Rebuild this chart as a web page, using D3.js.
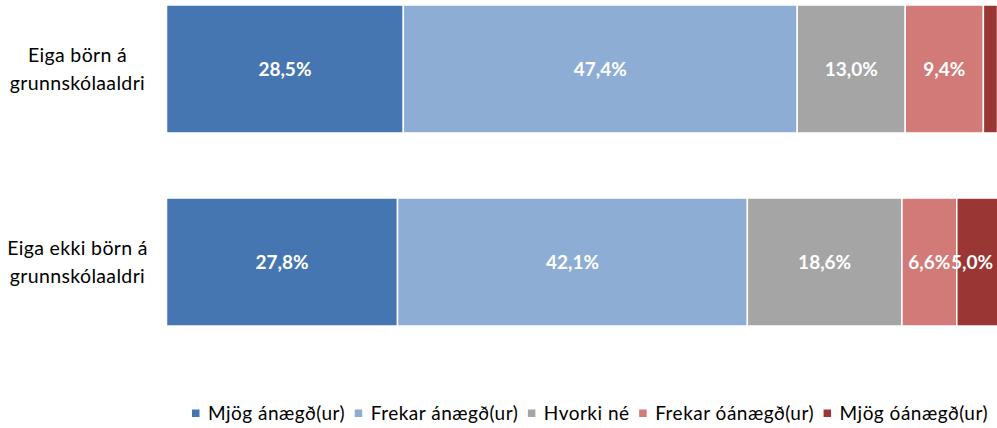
<!DOCTYPE html>
<html><head><meta charset="utf-8">
<script src="https://cdn.jsdelivr.net/npm/d3@7"></script>
<style>body{margin:0;background:#fff}svg{display:block}</style>
</head><body>
<script>
const categories = [["Eiga börn á","grunnskólaaldri"],["Eiga ekki börn á","grunnskólaaldri"]];
const seriesNames = ["Mjög ánægð(ur)","Frekar ánægð(ur)","Hvorki né","Frekar óánægð(ur)","Mjög óánægð(ur)"];
const row1 = [28.5, 47.4, 13.0, 9.4, 1.7];
const row2 = [27.8, 42.1, 18.6, 6.6, 5.0];
const colors = ["#4676B2","#8DADD5","#A5A5A5","#D17A77","#9A3634"];

const W = 997, H = 428;
const svg = d3.select("body").append("svg").attr("width", W).attr("height", H);
const rows = [row1, row2];
const keys = categories.map(c => c.join(" "));
const x = d3.scaleLinear().domain([0, 100]).range([166.5, 997.5]);
const y = d3.scaleBand().domain(keys).range([5, 326]).paddingInner(0.337).paddingOuter(0);

const data = rows.map((r, i) => {
  const o = {cat: keys[i]};
  seriesNames.forEach((s, j) => o[s] = r[j]);
  return o;
});
const stack = d3.stack().keys(seriesNames)(data);

const fmt = v => d3.format(".1f")(v).replace(".", ",") + "%";

const rectG = svg.append("g"), labG = svg.append("g");
stack.forEach((layer, j) => {
  rectG.append("g").selectAll("rect").data(layer).join("rect")
    .attr("x", d => x(d[0])).attr("width", d => x(d[1]) - x(d[0]))
    .attr("y", d => y(d.data.cat)).attr("height", y.bandwidth())
    .attr("fill", colors[j]).attr("stroke", "#fff").attr("stroke-width", 1.5);
  labG.append("g").selectAll("text").data(layer.filter(d => d[1] - d[0] >= 3)).join("text")
    .attr("x", d => Math.min((x(d[0]) + x(d[1])) / 2, 972))
    .attr("y", d => y(d.data.cat) + y.bandwidth() / 2)
    .attr("dy", "0.36em").attr("text-anchor", "middle")
    .attr("fill", "#fff").attr("font-family", "Lato").attr("font-weight", "bold")
    .attr("font-size", 19).text(d => fmt(d[1] - d[0]));
});

// category labels
categories.forEach((lines, i) => {
  const cy = y(keys[i]) + y.bandwidth() / 2;
  const t = svg.append("text").attr("text-anchor", "middle")
    .attr("font-family", "Lato").attr("font-size", 19.5).attr("letter-spacing", 0.35).attr("fill", "#000");
  lines.forEach((l, k) => {
    t.append("tspan").attr("x", 77.5).attr("y", cy + (k - 0.5) * 28).attr("dy", "0.36em").text(l);
  });
});

// legend: items spread between 192 and 988
const lg = svg.append("g");
const ly = 413, legL = 192, legR = 988, sqToText = 16;
const items = seriesNames.map((s, j) => {
  const g = lg.append("g");
  g.append("rect").attr("x", 0).attr("y", ly - 3.5).attr("width", 7.5).attr("height", 7.5).attr("fill", colors[j]);
  const t = g.append("text").attr("x", sqToText).attr("y", ly).attr("dy", "0.36em")
    .attr("font-family", "Lato").attr("font-size", 19).attr("letter-spacing", 0.5).attr("fill", "#000").text(s);
  return {g, w: sqToText + t.node().getComputedTextLength()};
});
const totalW = d3.sum(items, d => d.w);
const gap = (legR - legL - totalW) / (items.length - 1);
let lx = legL;
items.forEach(it => { it.g.attr("transform", `translate(${lx},0)`); lx += it.w + gap; });
</script>
</body></html>
